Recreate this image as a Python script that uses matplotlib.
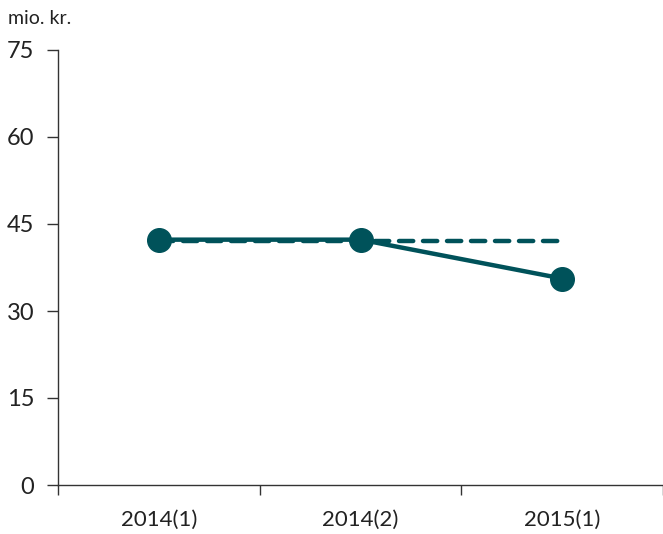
import matplotlib
matplotlib.use("Agg")
import matplotlib.pyplot as plt

categories = ["2014(1)", "2014(2)", "2015(1)"]
actual = [42.3, 42.3, 35.6]
baseline = [42.0, 42.0, 42.0]
yticks = [0, 15, 30, 45, 60, 75]
color = "#00525A"

plt.rcParams['font.family'] = ['Lato', 'DejaVu Sans']

fig = plt.figure(figsize=(6.63, 5.34), dpi=100)
ax = fig.add_axes([58/663, 1-485/534, 1-58/663, (485-50)/534])

x = list(range(len(categories)))
ax.plot(x, baseline, color=color, lw=3.2, ls=(0, (3.2, 2.2)), dash_capstyle='round', zorder=2)
ax.plot(x, actual, color=color, lw=3.2, marker='o', markersize=17, zorder=3)

ax.set_xlim(-0.5, 2.5)
ax.set_ylim(0, 75)
ax.set_yticks(yticks)
ax.set_yticklabels([str(v) for v in yticks], fontsize=17, color="#222222")
ax.set_xticks([-0.5, 0.5, 1.5, 2.5])
ax.set_xticklabels([])
ax.set_xticks(x, minor=True)
ax.set_xticklabels(categories, minor=True, fontsize=16, color="#222222")
ax.tick_params(axis='x', which='minor', length=0, pad=18)
ax.tick_params(axis='x', which='major', length=7, width=1, color="#333333")
ax.tick_params(axis='y', length=8, width=1, color="#333333", pad=9)

for s in ['top', 'right']:
    ax.spines[s].set_visible(False)
for s in ['left', 'bottom']:
    ax.spines[s].set_color("#333333")
    ax.spines[s].set_linewidth(1)

fig.text(8/663, 1-18/534, "mio. kr.", fontsize=14, color="#222222", va='center', ha='left')

fig.savefig("out.png", dpi=100)
